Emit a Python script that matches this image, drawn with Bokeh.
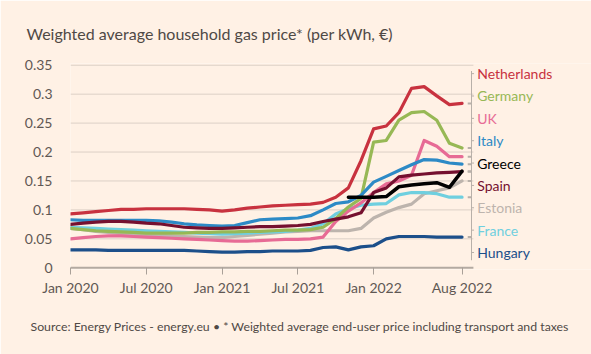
from bokeh.plotting import figure
from bokeh.models import FixedTicker, Label, Title
from bokeh.embed import file_html
from bokeh.resources import INLINE

# ---- data (monthly, Jan 2020 .. Aug 2022) ----
months = list(range(32))
netherlands = [0.093, 0.095, 0.097, 0.099, 0.101, 0.101, 0.102, 0.102, 0.102, 0.102, 0.101, 0.100,
               0.098, 0.100, 0.103, 0.105, 0.107, 0.108, 0.109, 0.110, 0.113, 0.122, 0.138, 0.185,
               0.240, 0.245, 0.268, 0.310, 0.313, 0.297, 0.282, 0.284]
germany = [0.068, 0.066, 0.064, 0.063, 0.062, 0.061, 0.060, 0.060, 0.060, 0.060, 0.061, 0.061,
           0.062, 0.062, 0.063, 0.063, 0.064, 0.065, 0.065, 0.066, 0.070, 0.085, 0.105, 0.120,
           0.217, 0.220, 0.255, 0.268, 0.270, 0.255, 0.215, 0.207]
uk = [0.050, 0.052, 0.054, 0.055, 0.055, 0.054, 0.053, 0.052, 0.051, 0.050, 0.049, 0.048,
      0.047, 0.046, 0.046, 0.047, 0.048, 0.049, 0.049, 0.050, 0.053, 0.080, 0.098, 0.112,
      0.130, 0.145, 0.150, 0.160, 0.220, 0.210, 0.192, 0.192]
italy = [0.083, 0.082, 0.082, 0.082, 0.082, 0.082, 0.082, 0.081, 0.079, 0.076, 0.074, 0.073,
         0.072, 0.073, 0.078, 0.083, 0.084, 0.085, 0.086, 0.090, 0.100, 0.111, 0.114, 0.125,
         0.148, 0.158, 0.168, 0.178, 0.187, 0.186, 0.181, 0.179]
greece_months = list(range(22, 32))
greece = [0.122, 0.122, 0.122, 0.123, 0.140, 0.143, 0.145, 0.147, 0.139, 0.167]
spain = [0.075, 0.077, 0.079, 0.080, 0.080, 0.079, 0.077, 0.076, 0.073, 0.070, 0.069, 0.068,
         0.068, 0.069, 0.070, 0.071, 0.071, 0.072, 0.073, 0.075, 0.080, 0.084, 0.088, 0.095,
         0.130, 0.138, 0.157, 0.160, 0.162, 0.164, 0.165, 0.166]
estonia = [0.068, 0.066, 0.063, 0.061, 0.059, 0.058, 0.057, 0.056, 0.055, 0.054, 0.053, 0.052,
           0.052, 0.054, 0.056, 0.058, 0.060, 0.062, 0.063, 0.064, 0.064, 0.064, 0.064, 0.068,
           0.086, 0.096, 0.104, 0.110, 0.128, 0.133, 0.138, 0.150]
france = [0.070, 0.069, 0.068, 0.067, 0.066, 0.065, 0.064, 0.063, 0.062, 0.061, 0.060, 0.059,
          0.058, 0.059, 0.060, 0.061, 0.062, 0.063, 0.065, 0.068, 0.076, 0.093, 0.102, 0.108,
          0.110, 0.111, 0.126, 0.130, 0.130, 0.128, 0.122, 0.122]
hungary = [0.031, 0.031, 0.031, 0.030, 0.030, 0.030, 0.030, 0.030, 0.030, 0.030, 0.029, 0.028,
           0.027, 0.027, 0.028, 0.028, 0.029, 0.029, 0.029, 0.030, 0.035, 0.036, 0.031, 0.036,
           0.038, 0.050, 0.054, 0.054, 0.054, 0.053, 0.053, 0.053]

x_tick_pos = [0, 6, 12, 18, 24, 31]
x_tick_labels = ["Jan 2020", "Jul 2020", "Jan 2021", "Jul 2021", "Jan 2022", "Aug 2022"]
y_ticks = [0, 0.05, 0.1, 0.15, 0.2, 0.25, 0.3, 0.35]
y_tick_labels = ["0", "0.05", "0.1", "0.15", "0.2", "0.25", "0.3", "0.35"]

title_text = "Weighted average household gas price* (per kWh, €)"
source_text = ("Source: Energy Prices - energy.eu \u2022 * Weighted average end-user price "
               "including transport and taxes")

series = [
    ("Estonia", months, estonia, "#bdb4ad"),
    ("France", months, france, "#6fcfdf"),
    ("Hungary", months, hungary, "#1c4f8a"),
    ("UK", months, uk, "#e76b95"),
    ("Germany", months, germany, "#97b855"),
    ("Italy", months, italy, "#2d8ac6"),
    ("Spain", months, spain, "#75102f"),
    ("Netherlands", months, netherlands, "#c8323f"),
    ("Greece", greece_months, greece, "#000000"),
]
label_order = ["Netherlands", "Germany", "UK", "Italy", "Greece", "Spain", "Estonia", "France", "Hungary"]
colors = {n: c for n, _, _, c in series}

BG = "#fff1e5"
FONT = "Lato"
TXT = "#4f4945"

p = figure(width=591, height=354, output_backend="svg", toolbar_location=None,
           x_range=(0, 41.25), y_range=(-0.003, 0.353),
           min_border_left=70, min_border_right=0, min_border_top=63, min_border_bottom=85,
           background_fill_color=BG, border_fill_color=BG, outline_line_color=None)

p.title.text = title_text
p.title.align = "left"
p.title.offset = -44
p.title.vertical_align = "top"
p.title.text_font = FONT
p.title.text_font_size = "16px"
p.title.text_font_style = "normal"
p.title.text_color = TXT
p.title.standoff = 37

p.xgrid.visible = False
p.ygrid.visible = False

# gridlines (limited to the data area)
p.segment(x0=[0] * 7, y0=y_ticks[1:], x1=[31.9] * 7, y1=y_ticks[1:], line_color="#dcd0c6", line_width=1)
p.segment(x0=[0], y0=[0], x1=[31.9], y1=[0], line_color="#b3aaa2", line_width=2)

# axes
p.xaxis.ticker = FixedTicker(ticks=x_tick_pos)
p.xaxis.major_label_overrides = dict(zip(x_tick_pos, x_tick_labels))
p.xaxis.axis_line_color = None
p.xaxis.major_tick_line_color = "#a9a098"
p.xaxis.major_tick_in = 2
p.xaxis.major_tick_out = 5
p.xaxis.minor_tick_line_color = None
p.xaxis.major_label_text_font = FONT
p.xaxis.major_label_text_font_size = "14px"
p.xaxis.major_label_text_color = "#5f5854"
p.xaxis.major_label_standoff = 4

p.yaxis.ticker = FixedTicker(ticks=y_ticks)
p.yaxis.major_label_overrides = dict(zip(y_ticks, y_tick_labels))
p.yaxis.axis_line_color = None
p.yaxis.major_tick_line_color = None
p.yaxis.minor_tick_line_color = None
p.yaxis.major_label_text_font = FONT
p.yaxis.major_label_text_font_size = "14px"
p.yaxis.major_label_text_color = "#5f5854"
p.yaxis.major_label_standoff = 12

# bracket / leader lines
p.segment(x0=[31.75], y0=[0.340], x1=[31.75], y1=[0.013], line_color="#b8b0a9", line_width=1)
ends = [vals[-1] for _, _, vals, _ in series]
p.segment(x0=[31.45] * len(ends), y0=ends, x1=[31.75] * len(ends), y1=ends,
          line_color="#b8b0a9", line_width=2)

# lines
for name, xs, ys, col in series:
    p.line(xs, ys, line_color=col, line_width=3.2 if name != "Greece" else 3.5,
           line_join="round", line_cap="round")

# right-hand labels
top_y, step = 0.3355, 0.03864
for k, name in enumerate(label_order):
    yv = top_y - k * step
    p.segment(x0=[31.75], y0=[yv], x1=[31.95], y1=[yv], line_color="#b8b0a9", line_width=1)
    p.add_layout(Label(x=32.2, y=yv, text=name, text_font=FONT, text_font_size="14px",
                       text_color=colors[name], text_baseline="middle", text_align="left"))

# source note below the axis
src = Title(text=source_text, align="left", offset=-40, standoff=37,
            text_font=FONT, text_font_size="12.3px", text_font_style="normal", text_color=TXT)
p.add_layout(src, "below")

open("out.html", "w").write(file_html(p, INLINE))
